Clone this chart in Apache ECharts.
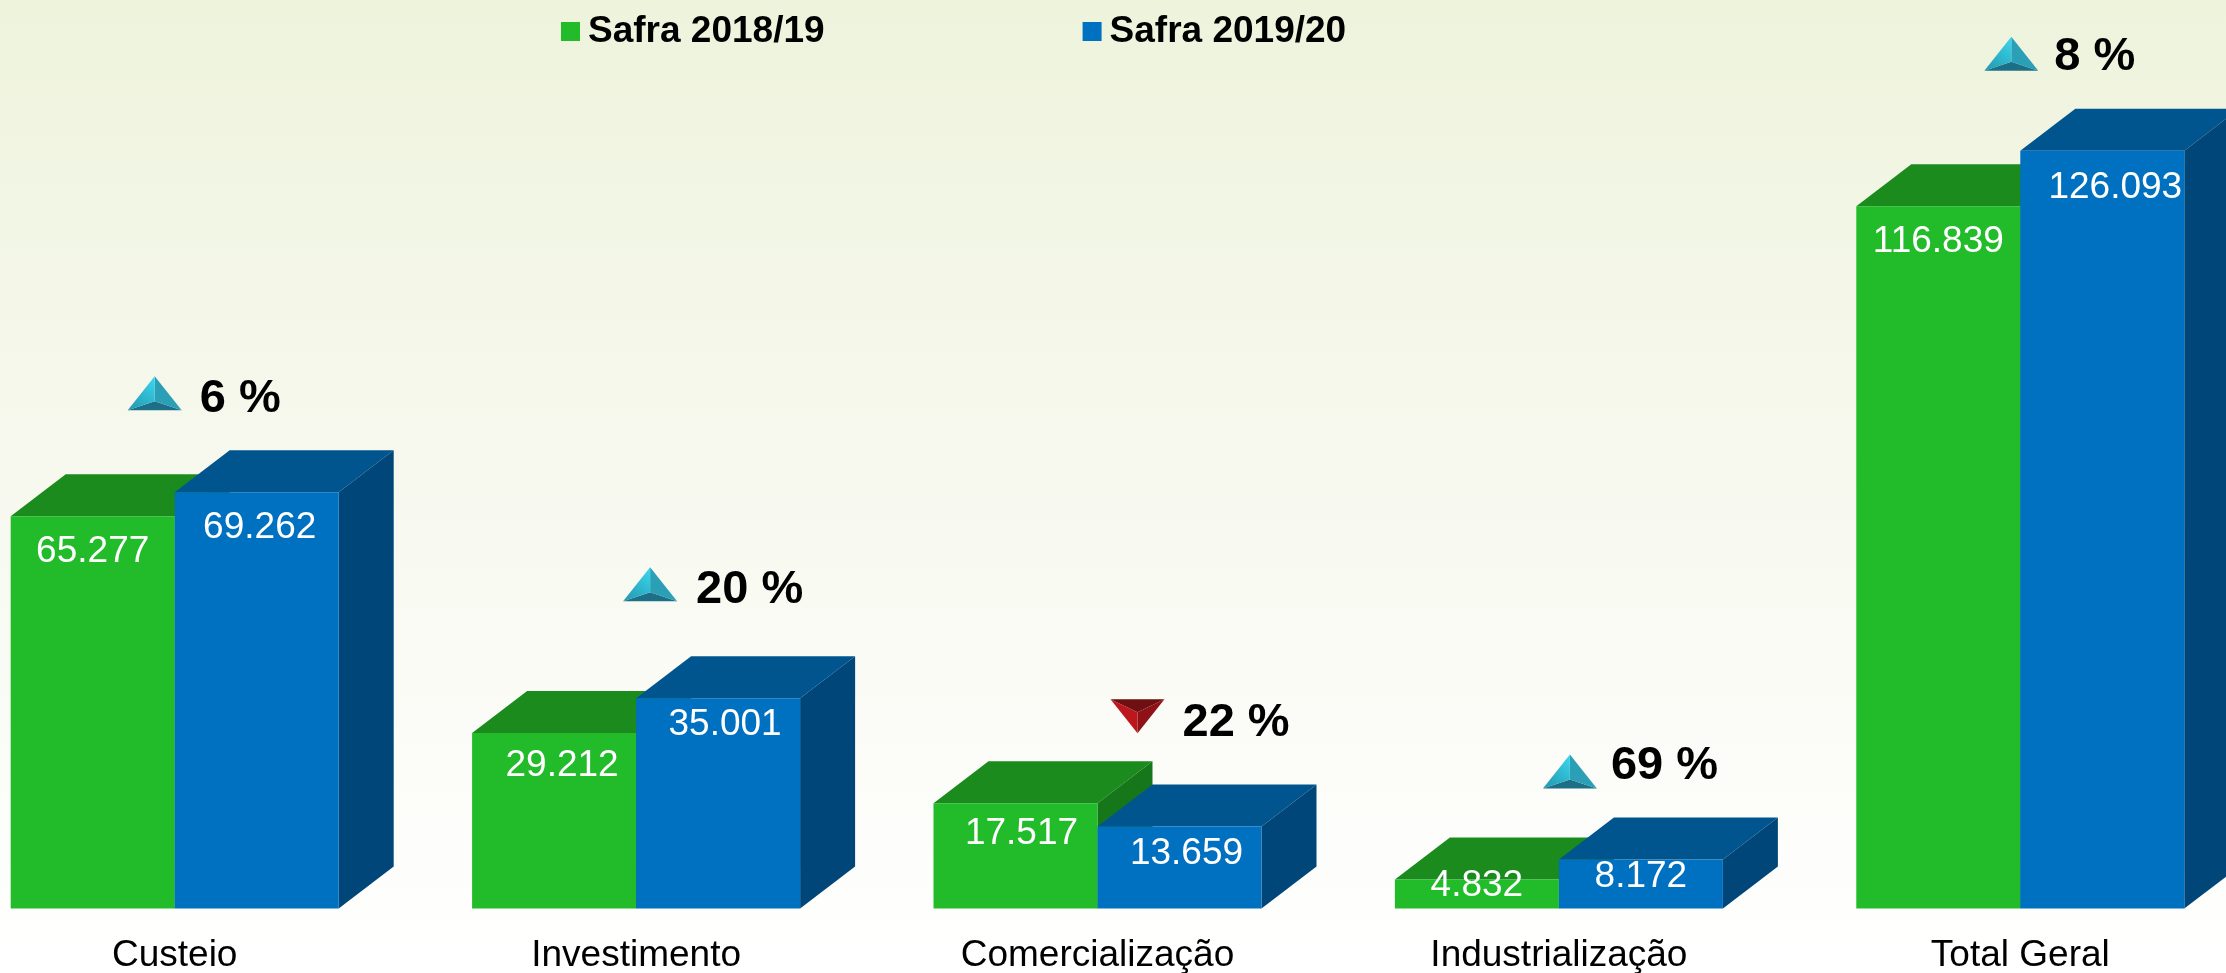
<!DOCTYPE html>
<html>
<head>
<meta charset="utf-8">
<title>Safra</title>
<style>
  html, body { margin: 0; padding: 0; }
  #chart { width: 2226px; height: 973px; }
</style>
<script src="https://cdn.jsdelivr.net/npm/echarts@6/dist/echarts.min.js"></script>
</head>
<body>
<div id="chart"></div>
<script>
// dados do grafico
const categories = ['Custeio', 'Investimento', 'Comercialização', 'Industrialização', 'Total Geral'];
const safra1819 = [65277, 29212, 17517, 4832, 116839];
const safra1920 = [69262, 35001, 13659, 8172, 126093];
const changes = [6, 20, -22, 69, 8];

// ajustes de posicao em pixel, por categoria
const labelDrop1819 = [33, 30, 28, 4, 33];
const labelDrop1920 = [33, 24, 25, 15, 35];
const labelShift1819 = [0, 8, 6, 0, 0];
const labelShift1920 = [3, 7, 7, 0, 13];
const arrowShiftX = [-20, 14, 40, 11, -9];
const arrowShiftY = [-99, -114, -87, -88, -97];
const textShiftX = [25, 60, 85, 52, 34];
const textShiftY = [-93, -108, -80, -93, -94];

const FONT = '"Liberation Sans", Arial, sans-serif';
const BAR_W = 164;
const DEPTH_X = 55;
const DEPTH_Y = 42;
const GREEN = { front: '#22BB2A', top: '#1B8B1E', side: '#16761A' };
const BLUE = { front: '#0070C0', top: '#00558F', side: '#004678' };

function fmt(v) {
    return String(v).replace(/\B(?=(\d{3})+$)/g, '.');
}

function barData(values, drops, shifts) {
    return values.map(function (v, i) {
        return { value: v, label: { offset: [shifts[i], drops[i] - 16] } };
    });
}

// faces de cima e do lado, a partir do topo da barra
function depthFaces(colors, offset) {
    return function (params, api) {
        const top = api.coord([api.value(0), api.value(1)]);
        const base = api.coord([api.value(0), 0]);
        const x0 = top[0] + offset;
        const x1 = x0 + BAR_W;
        const y0 = top[1];
        const y1 = base[1];
        return {
            type: 'group',
            children: [
                {
                    type: 'polygon',
                    shape: { points: [[x0, y0], [x0 + DEPTH_X, y0 - DEPTH_Y], [x1 + DEPTH_X, y0 - DEPTH_Y], [x1, y0]] },
                    style: { fill: colors.top }
                },
                {
                    type: 'polygon',
                    shape: { points: [[x1, y0], [x1 + DEPTH_X, y0 - DEPTH_Y], [x1 + DEPTH_X, y1 - DEPTH_Y], [x1, y1]] },
                    style: { fill: colors.side }
                }
            ]
        };
    };
}

function arrowShape(cx, cy, up) {
    const w = 27;
    const h = 17;
    if (up) {
        const apex = [cx, cy - h];
        const l = [cx - w, cy + h];
        const r = [cx + w, cy + h];
        const c = [cx, cy + 8];
        return [
            { type: 'polygon', shape: { points: [l, r, c] }, style: { fill: '#1C6F86' } },
            { type: 'polygon', shape: { points: [apex, r, c] }, style: { fill: '#2A9FB6' } },
            { type: 'polygon', shape: { points: [apex, l, c] }, style: { fill: new echarts.graphic.LinearGradient(1, 0, 0, 1, [{ offset: 0, color: '#3BD8EE' }, { offset: 1, color: '#2296AE' }]) } }
        ];
    }
    const apex = [cx, cy + h];
    const l = [cx - w, cy - h];
    const r = [cx + w, cy - h];
    const c = [cx, cy - 4];
    return [
        { type: 'polygon', shape: { points: [l, r, c] }, style: { fill: '#6E0F12' } },
        { type: 'polygon', shape: { points: [apex, r, c] }, style: { fill: '#8F1218' } },
        { type: 'polygon', shape: { points: [apex, l, c] }, style: { fill: '#BC171D' } }
    ];
}

function renderChange(params, api) {
    const i = params.dataIndex;
    const p = api.coord([api.value(0), api.value(1)]);
    const kids = arrowShape(p[0] + arrowShiftX[i], p[1] + arrowShiftY[i], changes[i] > 0);
    kids.push({
        type: 'text',
        style: {
            x: p[0] + textShiftX[i],
            y: p[1] + textShiftY[i],
            text: Math.abs(changes[i]) + ' %',
            fill: '#000',
            font: 'bold 47px ' + FONT,
            align: 'left',
            verticalAlign: 'middle'
        }
    });
    return { type: 'group', children: kids };
}

const chart = echarts.init(document.getElementById('chart'));

const valueLabel = {
    show: true,
    position: 'insideTop',
    distance: 0,
    color: '#fff',
    fontFamily: FONT,
    fontSize: 37,
    formatter: function (p) { return fmt(p.value); }
};

chart.setOption({
    animation: false,
    backgroundColor: new echarts.graphic.LinearGradient(0, 0, 0, 1, [
        { offset: 0, color: '#EEF3DC' },
        { offset: 0.5, color: '#F7F9EF' },
        { offset: 1, color: '#FFFFFF' }
    ]),
    legend: {
        data: ['Safra 2018/19', 'Safra 2019/20'],
        left: 561,
        top: 13,
        icon: 'rect',
        itemWidth: 19,
        itemHeight: 19,
        itemGap: 258,
        padding: 0,
        textStyle: { color: '#000', fontFamily: FONT, fontWeight: 'bold', fontSize: 37, padding: [0, 0, 0, 3] }
    },
    grid: { left: -56, width: 2307, top: 7, bottom: 64.5, outerBoundsMode: 'none' },
    xAxis: {
        type: 'category',
        data: categories,
        axisLine: { show: false },
        axisTick: { show: false },
        axisLabel: { color: '#000', fontFamily: FONT, fontSize: 37, margin: 29 }
    },
    yAxis: { type: 'value', min: 0, max: 150000, show: false, splitLine: { show: false } },
    series: [
        {
            name: 'Safra 2018/19', type: 'bar', barWidth: BAR_W, barGap: 0, z: 4,
            itemStyle: { color: GREEN.front }, label: valueLabel,
            data: barData(safra1819, labelDrop1819, labelShift1819)
        },
        {
            name: 'Safra 2019/20', type: 'bar', barWidth: BAR_W, barGap: 0, z: 5,
            itemStyle: { color: BLUE.front }, label: valueLabel,
            data: barData(safra1920, labelDrop1920, labelShift1920)
        },
        {
            type: 'custom', name: 'face1819', z: 2, silent: true,
            renderItem: depthFaces(GREEN, -BAR_W),
            encode: { x: 0, y: 1 },
            data: safra1819.map(function (v, i) { return [i, v]; })
        },
        {
            type: 'custom', name: 'face1920', z: 3, silent: true,
            renderItem: depthFaces(BLUE, 0),
            encode: { x: 0, y: 1 },
            data: safra1920.map(function (v, i) { return [i, v]; })
        },
        {
            type: 'custom', name: 'variacao', z: 6, silent: true,
            renderItem: renderChange,
            encode: { x: 0, y: 1 },
            data: safra1819.map(function (v, i) { return [i, Math.max(v, safra1920[i])]; })
        }
    ]
});

window.onresize = function () {
    chart.resize();
};
</script>
</body>
</html>
